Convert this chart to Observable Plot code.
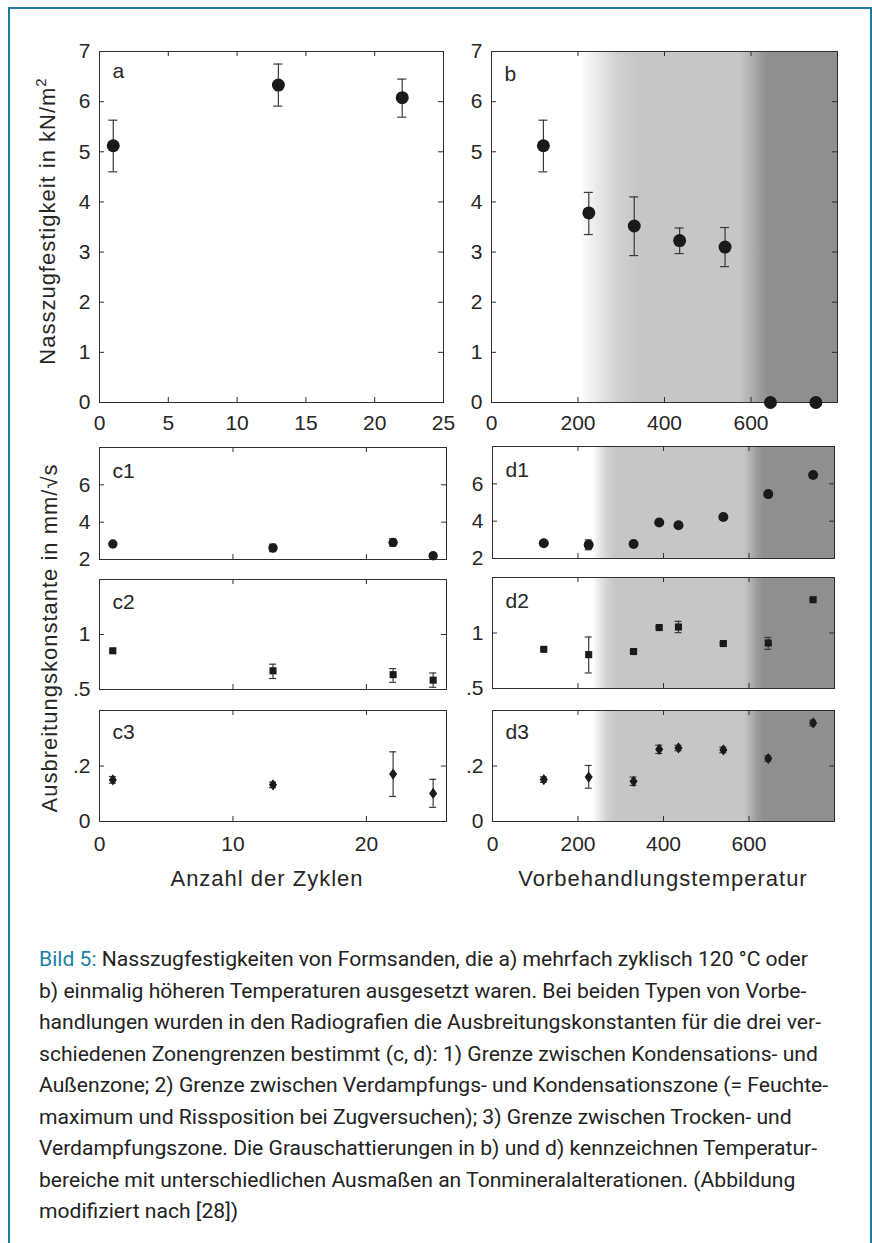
<!DOCTYPE html>
<html><head><meta charset="utf-8">
<script src="https://cdn.jsdelivr.net/npm/d3@7"></script>
<script src="https://cdn.jsdelivr.net/npm/@observablehq/plot@0.6"></script>
<style>
html,body{margin:0;padding:0;background:#fff;}
#page{position:relative;width:872px;height:1243px;overflow:hidden;background:#fff;}
#frame{position:absolute;left:8px;top:7px;width:864px;height:1260px;box-sizing:border-box;border:2px solid #1b7a9c;border-bottom:none;}
#page svg{position:absolute;}
#caption{position:absolute;left:39px;top:943px;font-family:Roboto,"Open Sans",sans-serif;font-size:21.1px;line-height:31.5px;color:#222;white-space:nowrap;}
#caption .hl{color:#1b7fa6;}
</style></head>
<body><div id="page"><div id="frame"></div><div id="caption"></div></div>
<script>
// ---------- data ----------
const cyclesA = [1, 13, 22];
const strengthA = [5.12, 6.33, 6.08];
const strengthALo = [4.60, 5.91, 5.69];
const strengthAHi = [5.63, 6.75, 6.45];

const tempB = [120, 225, 330, 435, 540, 645, 750];
const strengthB = [5.12, 3.78, 3.52, 3.23, 3.10, 0, 0];
const strengthBLo = [4.60, 3.35, 2.93, 2.97, 2.71, 0, 0];
const strengthBHi = [5.63, 4.19, 4.10, 3.48, 3.49, 0, 0];

const cyclesC = [1, 13, 22, 25];
const c1 = [2.83, 2.62, 2.91, 2.20];
const c1Lo = [2.75, 2.42, 2.71, 2.10];
const c1Hi = [2.91, 2.82, 3.11, 2.30];
const c2 = [0.852, 0.670, 0.635, 0.585];
const c2Lo = [0.840, 0.600, 0.565, 0.520];
const c2Hi = [0.865, 0.730, 0.690, 0.650];
const c3 = [0.150, 0.132, 0.171, 0.101];
const c3Lo = [0.138, 0.122, 0.090, 0.051];
const c3Hi = [0.162, 0.142, 0.251, 0.152];

const tempD = [120, 225, 330, 390, 435, 540, 645, 750];
const d1 = [2.82, 2.73, 2.78, 3.93, 3.78, 4.22, 5.45, 6.47];
const d1Lo = [2.74, 2.47, 2.70, 3.85, 3.70, 4.14, 5.37, 6.39];
const d1Hi = [2.90, 3.00, 2.86, 4.01, 3.86, 4.30, 5.53, 6.55];
const d2 = [0.853, 0.805, 0.833, 1.049, 1.054, 0.905, 0.910, 1.300];
const d2Lo = [0.843, 0.640, 0.823, 1.039, 1.003, 0.895, 0.853, 1.290];
const d2Hi = [0.863, 0.964, 0.843, 1.059, 1.105, 0.915, 0.960, 1.310];
const d3v = [0.151, 0.160, 0.145, 0.260, 0.265, 0.258, 0.227, 0.355];
const d3Lo = [0.141, 0.120, 0.130, 0.245, 0.255, 0.248, 0.217, 0.345];
const d3Hi = [0.161, 0.202, 0.160, 0.275, 0.275, 0.268, 0.237, 0.365];

// shading (temperature, gray)
const shadeBTemps = [0, 205, 245, 290, 340, 575, 600, 625, 640, 800];
const shadeBColors = ["#ffffff","#ffffff","#e8e9e8","#d2d3d2","#c5c6c5","#c5c6c5","#b0b1b0","#999a99","#8e8f8e","#8e8f8e"];
const shadeDTemps = [0, 235, 255, 270, 288, 590, 605, 620, 635, 800];
const shadeDColors = ["#ffffff","#ffffff","#e2e3e2","#d0d1d0","#c5c6c5","#c5c6c5","#b0b1b0","#9a9b9a","#8e8f8e","#8e8f8e"];

// ticks
const ticksA = [0, 5, 10, 15, 20, 25];
const ticksStrength = [0, 1, 2, 3, 4, 5, 6, 7];
const ticksTemp = [0, 200, 400, 600];
const ticksTempLabels = ["0", "200", "400", "600"];
const ticksCycles = [0, 10, 20];
const ticks1 = [2, 4, 6, 8];
const ticks1Labels = ["2", "4", "6", null];
const ticks2 = [0.5, 1, 1.5];
const ticks2Labels = [".5", "1", null];
const ticks3 = [0, 0.2, 0.4];
const ticks3Labels = ["0", ".2", null];

const FONT = "'Liberation Sans', Arial, Helvetica, sans-serif";
const INK = "#262626";
const MARK = "#1a1a1a";
const ERR = "#3a3a3a";

const diamondTall = {
  draw(ctx, size) {
    const r = Math.sqrt(size / Math.PI);
    const w = r * 0.9, h = r * 1.25;
    ctx.moveTo(0, -h); ctx.lineTo(w, 0); ctx.lineTo(0, h); ctx.lineTo(-w, 0); ctx.closePath();
  }
};

function rows(xs, ys, lo, hi) {
  return xs.map((x, i) => ({x, y: ys[i], lo: lo[i], hi: hi[i]}));
}

function errMarks(data, cap) {
  return [
    Plot.ruleX(data, {x: "x", y1: "lo", y2: "hi", stroke: ERR, strokeWidth: 1.2}),
    Plot.ruleY(data, {y: "hi", x1: "x", x2: "x", insetLeft: -cap, insetRight: -cap, stroke: ERR, strokeWidth: 1.2}),
    Plot.ruleY(data, {y: "lo", x1: "x", x2: "x", insetLeft: -cap, insetRight: -cap, stroke: ERR, strokeWidth: 1.2})
  ];
}

let gradCount = 0;
function panel(o) {
  const mL = 60, mR = 14, mT = 14, mB = 46;
  const W = o.w + mL + mR, H = o.h + mT + mB;
  const marks = [];
  let gradId = null;
  if (o.shadeTemps) {
    gradId = "shade" + (gradCount++);
    marks.push(Plot.rect([{start: o.xDomain[0], end: o.xDomain[1]}], {x1: "start", x2: "end", fill: `url(#${gradId})`}));
  }
  marks.push(Plot.frame({stroke: "#2e2e2e", strokeWidth: 1}));
  marks.push(Plot.ruleX(o.xTicks, {insetTop: o.h - 5, stroke: "#2e2e2e"}));
  marks.push(Plot.ruleX(o.xTicks, {insetBottom: o.h - 5, stroke: "#2e2e2e"}));
  marks.push(Plot.ruleY(o.yTicks, {insetRight: o.w - 5, stroke: "#2e2e2e"}));
  marks.push(Plot.ruleY(o.yTicks, {insetLeft: o.w - 5, stroke: "#2e2e2e"}));
  if (o.xLabels) {
    const m = new Map(o.xTicks.map((t, i) => [t, o.xLabels[i]]));
    marks.push(Plot.axisX(o.xTicks.filter((t, i) => o.xLabels[i] != null), {tickSize: 0, tickPadding: o.xPad, tickFormat: d => m.get(d), label: null, fontSize: 21, fill: INK}));
  }
  {
    const m = new Map(o.yTicks.map((t, i) => [t, o.yLabels[i]]));
    marks.push(Plot.axisY(o.yTicks.filter((t, i) => o.yLabels[i] != null), {tickSize: 0, tickPadding: 9, tickFormat: d => m.get(d), label: null, fontSize: 21, fill: INK}));
  }
  marks.push(Plot.text([o.letter], {text: d => d, frameAnchor: "top-left", dx: 13, dy: o.letterDy, lineAnchor: "bottom", textAnchor: "start", fontSize: 21, fill: INK}));
  marks.push(...errMarks(o.data, o.cap));
  marks.push(Plot.dot(o.data, {x: "x", y: "y", r: o.r, symbol: o.symbol, fill: MARK, stroke: "none"}));
  const chart = Plot.plot({
    width: W, height: H, marginLeft: mL, marginRight: mR, marginTop: mT, marginBottom: mB,
    x: {domain: o.xDomain, axis: null}, y: {domain: o.yDomain, axis: null},
    style: {fontFamily: FONT, fontSize: "21px", color: INK, background: "none", overflow: "visible"},
    marks
  });
  if (gradId) {
    const span = o.xDomain[1] - o.xDomain[0];
    const g = d3.select(chart).insert("defs", ":first-child")
      .append("linearGradient").attr("id", gradId).attr("x1", 0).attr("x2", 1).attr("y1", 0).attr("y2", 0);
    o.shadeTemps.forEach((t, i) => {
      g.append("stop").attr("offset", (t - o.xDomain[0]) / span).attr("stop-color", o.shadeColors[i]);
    });
  }
  chart.style.left = (o.left - mL) + "px";
  chart.style.top = (o.top - mT) + "px";
  document.getElementById("page").appendChild(chart);
}

const idLabels = a => a.map(String);

panel({left: 99, top: 51, w: 344, h: 351, xDomain: [0, 25], yDomain: [0, 7],
  xTicks: ticksA, xLabels: idLabels(ticksA), xPad: 13, yTicks: ticksStrength, yLabels: idLabels(ticksStrength),
  letter: "a", letterDy: 26, data: rows(cyclesA, strengthA, strengthALo, strengthAHi), r: 6.5, symbol: "circle", cap: 4.5});
panel({left: 491, top: 51, w: 346, h: 351, xDomain: [0, 800], yDomain: [0, 7],
  xTicks: ticksTemp, xLabels: ticksTempLabels, xPad: 13, yTicks: ticksStrength, yLabels: idLabels(ticksStrength),
  letter: "b", letterDy: 29, data: rows(tempB, strengthB, strengthBLo, strengthBHi), r: 6.5, symbol: "circle", cap: 4.5,
  shadeTemps: shadeBTemps, shadeColors: shadeBColors});

panel({left: 99, top: 447, w: 347, h: 112, xDomain: [0, 26], yDomain: [2, 8],
  xTicks: ticksCycles, xLabels: null, yTicks: ticks1, yLabels: ticks1Labels,
  letter: "c1", letterDy: 30, data: rows(cyclesC, c1, c1Lo, c1Hi), r: 4.7, symbol: "circle", cap: 3.5});
panel({left: 99, top: 579, w: 347, h: 110, xDomain: [0, 26], yDomain: [0.5, 1.5],
  xTicks: ticksCycles, xLabels: null, yTicks: ticks2, yLabels: ticks2Labels,
  letter: "c2", letterDy: 29, data: rows(cyclesC, c2, c2Lo, c2Hi), r: 4, symbol: "square", cap: 3.5});
panel({left: 99, top: 710, w: 347, h: 111, xDomain: [0, 26], yDomain: [0, 0.4],
  xTicks: ticksCycles, xLabels: idLabels(ticksCycles), xPad: 15, yTicks: ticks3, yLabels: ticks3Labels,
  letter: "c3", letterDy: 28, data: rows(cyclesC, c3, c3Lo, c3Hi), r: 4.5, symbol: diamondTall, cap: 3.5});

panel({left: 492, top: 446, w: 342, h: 112, xDomain: [0, 800], yDomain: [2, 8],
  xTicks: ticksTemp, xLabels: null, yTicks: ticks1, yLabels: ticks1Labels,
  letter: "d1", letterDy: 30, data: rows(tempD, d1, d1Lo, d1Hi), r: 5, symbol: "circle", cap: 3.5,
  shadeTemps: shadeDTemps, shadeColors: shadeDColors});
panel({left: 492, top: 577, w: 342, h: 111, xDomain: [0, 800], yDomain: [0.5, 1.5],
  xTicks: ticksTemp, xLabels: null, yTicks: ticks2, yLabels: ticks2Labels,
  letter: "d2", letterDy: 30, data: rows(tempD, d2, d2Lo, d2Hi), r: 4, symbol: "square", cap: 3.5,
  shadeTemps: shadeDTemps, shadeColors: shadeDColors});
panel({left: 492, top: 710, w: 342, h: 111, xDomain: [0, 800], yDomain: [0, 0.4],
  xTicks: ticksTemp, xLabels: ticksTempLabels, xPad: 15, yTicks: ticks3, yLabels: ticks3Labels,
  letter: "d3", letterDy: 28, data: rows(tempD, d3v, d3Lo, d3Hi), r: 4.5, symbol: diamondTall, cap: 3.5,
  shadeTemps: shadeDTemps, shadeColors: shadeDColors});

// axis titles
const titles = d3.select("#page").append("svg").attr("width", 872).attr("height", 900)
  .style("left", "0px").style("top", "0px")
  .attr("font-family", FONT).attr("font-size", 22).attr("fill", INK).attr("letter-spacing", 1);
const t1 = titles.append("text").attr("transform", "translate(55,221) rotate(-90)").attr("text-anchor", "middle");
t1.append("tspan").text("Nasszugfestigkeit in kN/m");
t1.append("tspan").attr("dy", -9).attr("font-size", 15).text("2");
titles.append("text").attr("transform", "translate(57,638) rotate(-90)").attr("text-anchor", "middle")
  .text("Ausbreitungskonstante in mm/√s");
titles.append("text").attr("x", 267).attr("y", 886).attr("text-anchor", "middle").text("Anzahl der Zyklen");
titles.append("text").attr("x", 663).attr("y", 886).attr("text-anchor", "middle").text("Vorbehandlungstemperatur");

// caption
const captionLines = [
  "Nasszugfestigkeiten von Formsanden, die a) mehrfach zyklisch 120 °C oder",
  "b) einmalig höheren Temperaturen ausgesetzt waren. Bei beiden Typen von Vorbe-",
  "handlungen wurden in den Radiografien die Ausbreitungskonstanten für die drei ver-",
  "schiedenen Zonengrenzen bestimmt (c, d): 1) Grenze zwischen Kondensations- und",
  "Außenzone; 2) Grenze zwischen Verdampfungs- und Kondensationszone (= Feuchte-",
  "maximum und Rissposition bei Zugversuchen); 3) Grenze zwischen Trocken- und",
  "Verdampfungszone. Die Grauschattierungen in b) und d) kennzeichnen Temperatur-",
  "bereiche mit unterschiedlichen Ausmaßen an Tonmineralalterationen. (Abbildung",
  "modifiziert nach [28])"
];
const captionLead = "Bild 5:";
const cap = d3.select("#caption");
captionLines.forEach((line, i) => {
  const div = cap.append("div");
  if (i === 0) { div.append("span").attr("class", "hl").text(captionLead); div.append("span").text(" " + line); }
  else div.text(line);
});
</script>
</body></html>
